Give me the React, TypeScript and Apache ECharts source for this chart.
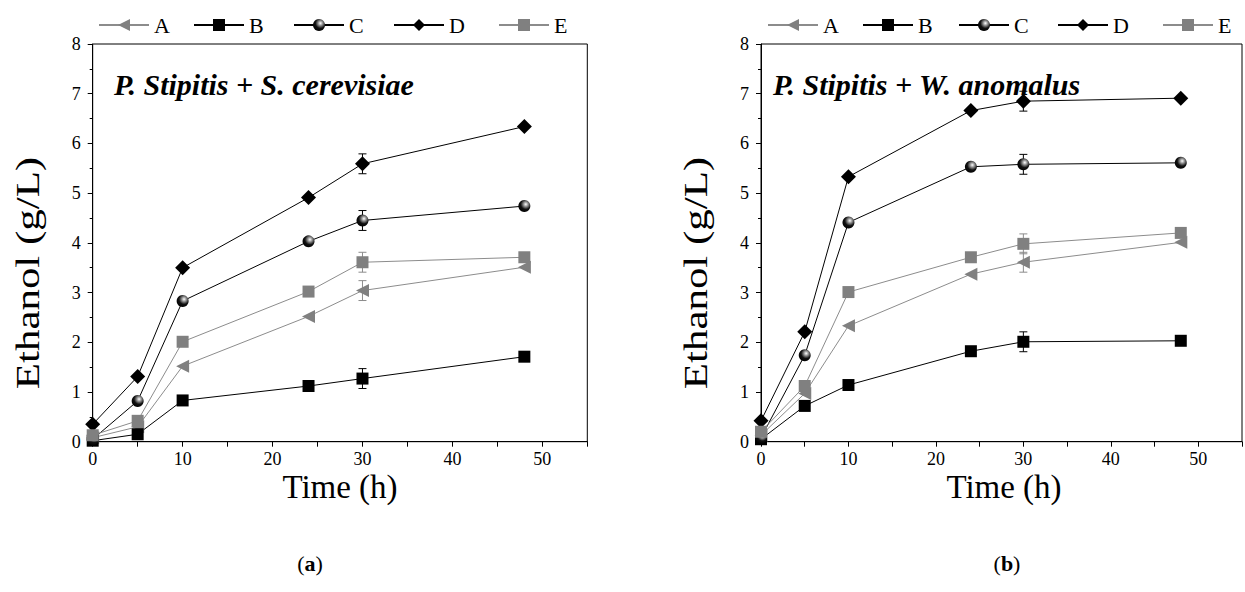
import React, { useEffect, useRef } from "react";
import * as echarts from "echarts";

// ---- data ----
const times = [0, 5, 10, 24, 30, 48];
const seriesNames = ["A", "B", "C", "D", "E"];

// (a) P. Stipitis + S. cerevisiae
const aA = [0.08, 0.3, 1.52, 2.52, 3.04, 3.51];
const aB = [0.02, 0.15, 0.83, 1.12, 1.27, 1.71];
const aC = [0.05, 0.82, 2.83, 4.03, 4.45, 4.74];
const aD = [0.35, 1.31, 3.5, 4.91, 5.59, 6.34];
const aE = [0.13, 0.42, 2.01, 3.02, 3.61, 3.71];
const aErr = [0, 0, 0, 0, 0.2, 0];

// (b) P. Stipitis + W. anomalus
const bA = [0.13, 0.97, 2.33, 3.37, 3.61, 4.01];
const bB = [0.05, 0.72, 1.14, 1.82, 2.01, 2.03];
const bC = [0.08, 1.74, 4.41, 5.53, 5.58, 5.61];
const bD = [0.42, 2.21, 5.33, 6.66, 6.85, 6.91];
const bE = [0.2, 1.12, 3.01, 3.71, 3.98, 4.2];
const bErr = [0, 0, 0, 0, 0.2, 0];

const xTicks = [0, 10, 20, 30, 40, 50];
const yTicks = [0, 1, 2, 3, 4, 5, 6, 7, 8];

const titleA = "P. Stipitis + S. cerevisiae";
const titleB = "P. Stipitis + W. anomalus";

const FONT = "'Liberation Serif', 'Times New Roman', serif";
const GREY = "#808080";
const GREY_LINE = "#8c8c8c";

const sphere = {
  type: "radial",
  x: 0.62,
  y: 0.35,
  r: 0.7,
  colorStops: [
    { offset: 0, color: "#ffffff" },
    { offset: 0.25, color: "#9a9a9a" },
    { offset: 0.6, color: "#111111" },
    { offset: 1, color: "#000000" },
  ],
};

const styles: Record<string, any> = {
  A: { symbol: "triangle", symbolSize: 13, symbolRotate: 90, color: GREY, line: GREY_LINE },
  B: { symbol: "rect", symbolSize: 12, symbolRotate: 0, color: "#000", line: "#000" },
  C: { symbol: "circle", symbolSize: 12, symbolRotate: 0, color: sphere, line: "#000" },
  D: { symbol: "diamond", symbolSize: 15, symbolRotate: 0, color: "#000", line: "#000" },
  E: { symbol: "rect", symbolSize: 12, symbolRotate: 0, color: GREY, line: GREY_LINE },
};

function lineSeries(name: string, idx: number, vals: number[]) {
  const s = styles[name];
  return {
    type: "line",
    name,
    xAxisIndex: idx,
    yAxisIndex: idx,
    data: times.map((t, i) => [t, vals[i]]),
    symbol: s.symbol,
    symbolSize: s.symbolSize,
    symbolRotate: s.symbolRotate,
    showAllSymbol: true,
    lineStyle: { color: s.line, width: 1 },
    itemStyle: { color: s.color, opacity: 1 },
    z: 3,
  };
}

function errSeries(name: string, idx: number, vals: number[], errs: number[]) {
  const color = styles[name].line;
  return {
    type: "custom",
    name: "err" + name + idx,
    xAxisIndex: idx,
    yAxisIndex: idx,
    silent: true,
    z: 2,
    data: times.map((t, i) => [t, vals[i], errs[i]]).filter((d) => d[2] > 0),
    renderItem: (params: any, api: any) => {
      const x = api.value(0);
      const y = api.value(1);
      const e = api.value(2);
      const top = api.coord([x, y + e]);
      const bot = api.coord([x, y - e]);
      const w = 4;
      const st = { stroke: color, lineWidth: 1 };
      return {
        type: "group",
        children: [
          { type: "line", shape: { x1: top[0], y1: top[1], x2: bot[0], y2: bot[1] }, style: st },
          { type: "line", shape: { x1: top[0] - w, y1: top[1], x2: top[0] + w, y2: top[1] }, style: st },
          { type: "line", shape: { x1: bot[0] - w, y1: bot[1], x2: bot[0] + w, y2: bot[1] }, style: st },
        ],
      };
    },
  };
}

const grids = [
  { left: 92.7, top: 44, width: 494.6, height: 397.7 },
  { left: 761, top: 44, width: 486.6, height: 397.7 },
];

const legendLefts = [
  [98, 193, 293, 393, 498],
  [767, 862, 958, 1057, 1162],
];

export default function App() {
  const ref = useRef<HTMLDivElement>(null);
  useEffect(() => {
    if (!ref.current) return;
    const chart = echarts.init(ref.current, undefined, { renderer: "svg" });

    const xAxis = grids.map((_, i) => ({
      type: "value",
      gridIndex: i,
      min: 0,
      max: 55,
      interval: 5,
      axisLine: { show: true, onZero: false, lineStyle: { color: "#000", width: 1 } },
      axisTick: { show: true, inside: false, length: 5, lineStyle: { color: "#000" } },
      axisLabel: {
        fontFamily: FONT,
        fontSize: 18,
        color: "#000",
        margin: 8,
        formatter: (v: number) => (xTicks.includes(v) ? String(v) : ""),
      },
      splitLine: { show: false },
    }));

    const yAxis = grids.map((_, i) => ({
      type: "value",
      gridIndex: i,
      min: 0,
      max: 8,
      interval: 1,
      axisLine: { show: true, onZero: false, lineStyle: { color: "#000", width: 1 } },
      axisTick: { show: true, inside: false, length: 5, lineStyle: { color: "#000" } },
      minorTick: { show: true, splitNumber: 2, length: 3, lineStyle: { color: "#000" } },
      axisLabel: {
        fontFamily: FONT,
        fontSize: 18,
        color: "#000",
        margin: 12,
        formatter: (v: number) => (yTicks.includes(v) ? String(v) : ""),
      },
      splitLine: { show: false },
    }));

    const legends: any[] = [];
    legendLefts.forEach((lefts) => {
      lefts.forEach((l, k) => {
        legends.push({
          data: [seriesNames[k]],
          left: l,
          top: 14,
          padding: 0,
          itemWidth: 50,
          itemHeight: 15,
          itemGap: 0,
          selectedMode: false,
          textStyle: { fontFamily: FONT, fontSize: 22, color: "#000", padding: [0, 0, 0, 0] },
        });
      });
    });

    const aVals = [aA, aB, aC, aD, aE];
    const bVals = [bA, bB, bC, bD, bE];
    const series: any[] = [];
    seriesNames.forEach((n, k) => {
      series.push(errSeries(n, 0, aVals[k], aErr));
      series.push(lineSeries(n, 0, aVals[k]));
    });
    seriesNames.forEach((n, k) => {
      series.push(errSeries(n, 1, bVals[k], bErr));
      series.push(lineSeries(n, 1, bVals[k]));
    });

    const axisTitle = (text: string, x: number, y: number) => ({
      type: "text",
      x,
      y,
      style: { text, fontFamily: FONT, fontSize: 33, fill: "#000", align: "center", verticalAlign: "middle" },
    });
    const yTitle = (x: number) => ({
      type: "text",
      x,
      y: 273,
      rotation: Math.PI / 2,
      scaleX: 1.3,
      style: {
        text: "Ethanol (g/L)",
        fontFamily: FONT,
        fontSize: 33,
        fill: "#000",
        align: "center",
        verticalAlign: "middle",
      },
    });
    const plotTitle = (text: string, x: number) => ({
      type: "text",
      x,
      y: 84,
      style: {
        text,
        fontFamily: FONT,
        fontSize: 30,
        fontStyle: "italic",
        fontWeight: "bold",
        fill: "#000",
        align: "left",
        verticalAlign: "middle",
      },
    });
    const caption = (letter: string, x: number) => ({
      type: "text",
      x,
      y: 563,
      style: {
        text: "{n|(}{b|" + letter + "}{n|)}",
        align: "center",
        verticalAlign: "middle",
        rich: {
          n: { fontFamily: FONT, fontSize: 22, fill: "#000", color: "#000" },
          b: { fontFamily: FONT, fontSize: 22, fontWeight: "bold", fill: "#000", color: "#000" },
        },
      },
    });

    chart.setOption({
      animation: false,
      backgroundColor: "#fff",
      grid: grids.map((g) => ({ ...g, show: true, borderColor: "#000", borderWidth: 1, backgroundColor: "transparent" })),
      xAxis,
      yAxis,
      legend: legends,
      series,
      graphic: [
        plotTitle(titleA, 114),
        plotTitle(titleB, 773),
        yTitle(28),
        yTitle(696),
        axisTitle("Time (h)", 340, 487),
        axisTitle("Time (h)", 1004, 487),
        caption("a", 310),
        caption("b", 1007),
      ],
    });
    return () => chart.dispose();
  }, []);
  return (
    <div
      ref={ref}
      style={{ position: "absolute", left: 0, top: 0, width: 1245, height: 592, background: "#fff" }}
    />
  );
}
